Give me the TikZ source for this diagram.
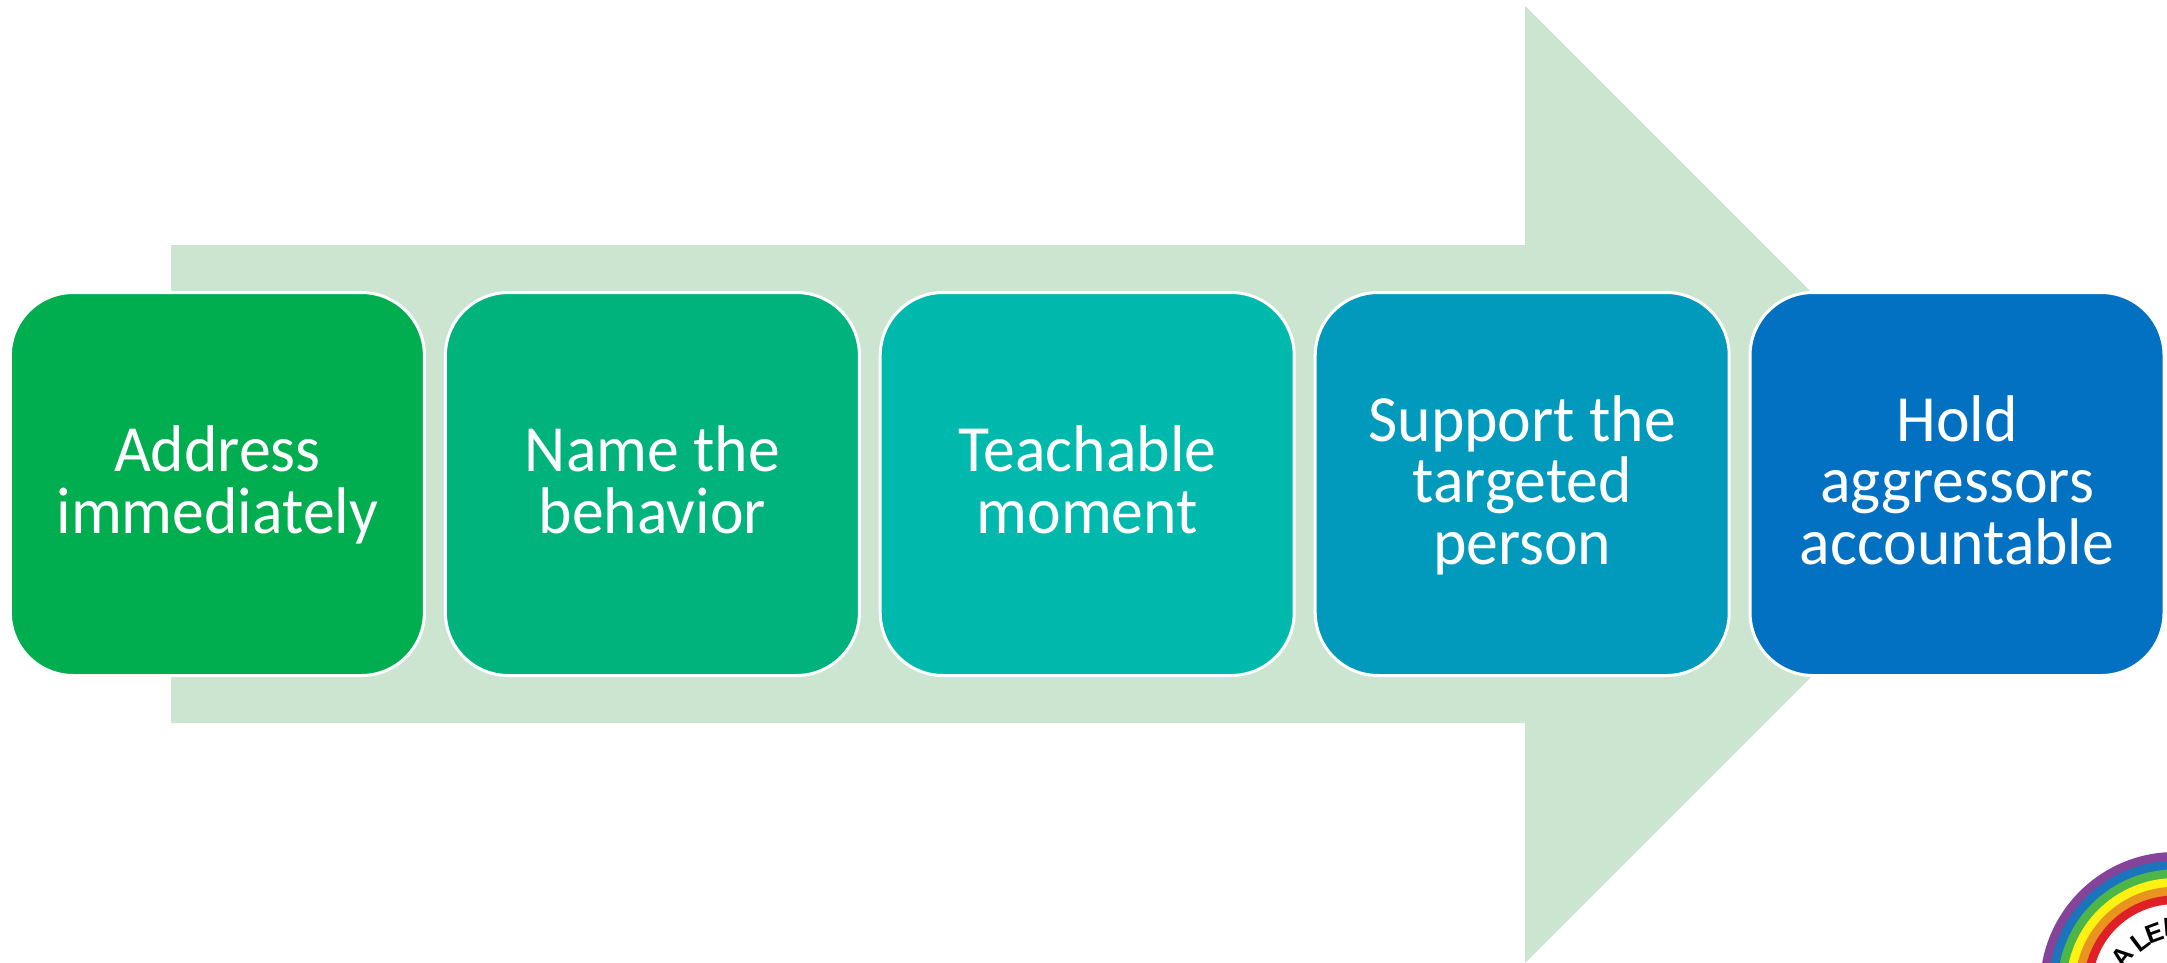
\documentclass[tikz,border=0pt]{standalone}
\usepackage{fontspec}
\setmainfont{Carlito}[FakeStretch=0.965]
\newfontfamily\logofont{Liberation Sans}
\definecolor{arrowgreen}{HTML}{CCE5D1}
\definecolor{boxa}{HTML}{00AE4F}
\definecolor{boxb}{HTML}{00B27C}
\definecolor{boxc}{HTML}{00B9AD}
\definecolor{boxd}{HTML}{029ABC}
\definecolor{boxe}{HTML}{0271C1}
\definecolor{rbpurple}{HTML}{85439A}
\definecolor{rbblue}{HTML}{1B75BC}
\definecolor{rbgreen}{HTML}{4CB648}
\definecolor{rbyellow}{HTML}{FFF212}
\definecolor{rborange}{HTML}{E8941F}
\definecolor{rbred}{HTML}{E02027}
\newcommand{\topprop}{\rule{0pt}{52pt}}
\newcommand{\botprop}{\rule[-15pt]{0pt}{15pt}}
\tikzset{
  stepbox/.style={draw=white,line width=3pt,rounded corners=63pt,inner sep=0pt,
    minimum width=414pt,minimum height=383pt,text=white,align=center,
    font=\fontsize{66}{61.5}\selectfont},
  logoletter/.style={inner sep=0pt,text=black,font=\logofont\bfseries\fontsize{26}{26}\selectfont}
}
\begin{document}
\begin{tikzpicture}[x=1pt,y=-1pt]
\useasboundingbox (0,0) rectangle (2167,963);
\clip (0,0) rectangle (2167,963);
\fill[white] (0,0) rectangle (2167,963);
\fill[arrowgreen] (171,245) -- (1525,245) -- (1525,6) -- (2003.5,484.5) -- (1525,963) -- (1525,723) -- (171,723) -- cycle;
\node[stepbox,fill=boxa] (s1) at (217.4,484) {\topprop Address\\immediately\botprop};
\node[stepbox,fill=boxb] (s2) at (652.4,484) {\topprop Name the\\behavior\botprop};
\node[stepbox,fill=boxc] (s3) at (1087.2,484) {\topprop Teachable\\moment\botprop};
\node[stepbox,fill=boxd] (s4) at (1522.2,484) {\topprop Support the\\targeted\\person\botprop};
\node[stepbox,fill=boxe] (s5) at (1957,484) {\topprop Hold\\aggressors\\accountable\botprop};
\coordinate (logo) at (2175,987);
\fill[rbpurple] (logo) circle (135);
\fill[rbblue] (logo) circle (126.3);
\fill[rbgreen] (logo) circle (117.6);
\fill[rbyellow] (logo) circle (108.9);
\fill[rborange] (logo) circle (100.2);
\fill[rbred] (logo) circle (91.5);
\fill[white] (logo) circle (82.8);
\node[logoletter,rotate=52] (la) at (2122,957) {A};
\node[logoletter,rotate=37] (lb) at (2140,942) {L};
\node[logoletter,rotate=20] (lc) at (2155,933) {E};
\node[logoletter,rotate=5] (ld) at (2167,927) {I};
\end{tikzpicture}
\end{document}
